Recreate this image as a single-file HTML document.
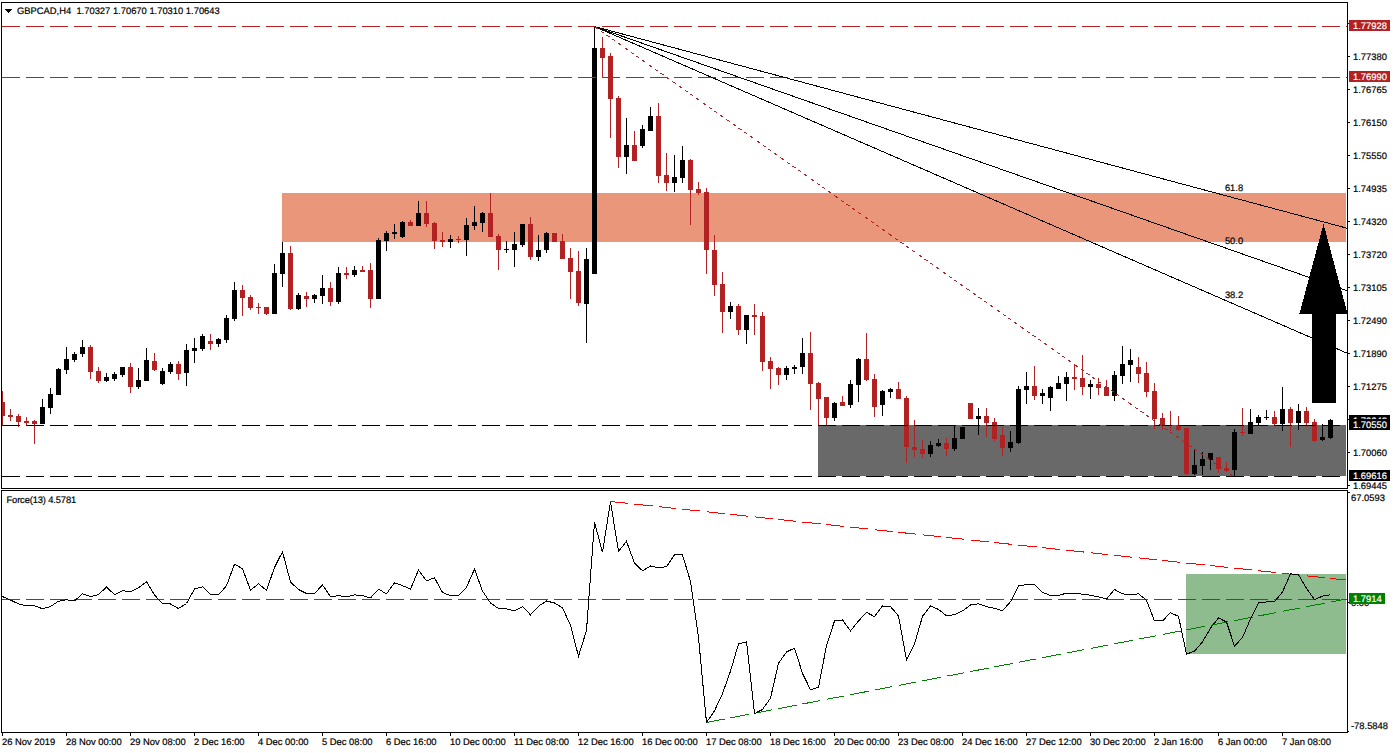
<!DOCTYPE html>
<html><head><meta charset="utf-8"><title>GBPCAD,H4</title>
<style>
html,body{margin:0;padding:0;background:#fff;}
body{width:1393px;height:753px;overflow:hidden;}
svg{display:block;}
text{font-family:"Liberation Sans",sans-serif;stroke-width:0.2px;text-rendering:geometricPrecision;}
</style></head><body>
<svg width="1393" height="753" viewBox="0 0 1393 753">
<clipPath id="cm"><rect x="2" y="3" width="1345" height="485"/></clipPath>
<clipPath id="ci"><rect x="2" y="491" width="1345" height="241"/></clipPath>
<g clip-path="url(#cm)" shape-rendering="crispEdges">
<rect x="282" y="193" width="1064" height="49" fill="#E9967A"/>
<rect x="818" y="425" width="528" height="51" fill="#696969"/>
<rect x="2" y="391" width="1" height="34" fill="#B22222"/>
<rect x="0" y="402" width="5" height="14" fill="#B22222"/>
<rect x="10" y="409" width="1" height="12" fill="#B22222"/>
<rect x="8" y="415" width="5" height="2" fill="#B22222"/>
<rect x="18" y="414" width="1" height="13" fill="#B22222"/>
<rect x="16" y="416" width="5" height="6" fill="#B22222"/>
<rect x="26" y="417" width="1" height="8" fill="#B22222"/>
<rect x="24" y="421" width="5" height="2" fill="#B22222"/>
<rect x="34" y="420" width="1" height="24" fill="#B22222"/>
<rect x="32" y="421" width="5" height="3" fill="#B22222"/>
<rect x="42" y="399" width="1" height="25" fill="#000"/>
<rect x="40" y="407" width="5" height="17" fill="#000"/>
<rect x="50" y="388" width="1" height="26" fill="#000"/>
<rect x="48" y="394" width="5" height="14" fill="#000"/>
<rect x="58" y="368" width="1" height="27" fill="#000"/>
<rect x="56" y="369" width="5" height="26" fill="#000"/>
<rect x="66" y="347" width="1" height="27" fill="#000"/>
<rect x="64" y="359" width="5" height="11" fill="#000"/>
<rect x="74" y="352" width="1" height="10" fill="#000"/>
<rect x="72" y="354" width="5" height="6" fill="#000"/>
<rect x="82" y="340" width="1" height="17" fill="#000"/>
<rect x="80" y="347" width="5" height="7" fill="#000"/>
<rect x="90" y="345" width="1" height="34" fill="#B22222"/>
<rect x="88" y="347" width="5" height="25" fill="#B22222"/>
<rect x="98" y="367" width="1" height="16" fill="#B22222"/>
<rect x="96" y="371" width="5" height="10" fill="#B22222"/>
<rect x="106" y="373" width="1" height="9" fill="#000"/>
<rect x="104" y="377" width="5" height="4" fill="#000"/>
<rect x="114" y="372" width="1" height="9" fill="#000"/>
<rect x="112" y="374" width="5" height="5" fill="#000"/>
<rect x="122" y="367" width="1" height="10" fill="#000"/>
<rect x="120" y="367" width="5" height="8" fill="#000"/>
<rect x="130" y="363" width="1" height="30" fill="#B22222"/>
<rect x="128" y="367" width="5" height="20" fill="#B22222"/>
<rect x="138" y="368" width="1" height="21" fill="#000"/>
<rect x="136" y="380" width="5" height="7" fill="#000"/>
<rect x="146" y="348" width="1" height="33" fill="#000"/>
<rect x="144" y="360" width="5" height="21" fill="#000"/>
<rect x="154" y="353" width="1" height="18" fill="#B22222"/>
<rect x="152" y="361" width="5" height="9" fill="#B22222"/>
<rect x="162" y="368" width="1" height="17" fill="#000"/>
<rect x="160" y="371" width="5" height="13" fill="#000"/>
<rect x="170" y="362" width="1" height="12" fill="#000"/>
<rect x="168" y="364" width="5" height="8" fill="#000"/>
<rect x="178" y="361" width="1" height="19" fill="#B22222"/>
<rect x="176" y="364" width="5" height="10" fill="#B22222"/>
<rect x="186" y="344" width="1" height="42" fill="#000"/>
<rect x="184" y="350" width="5" height="23" fill="#000"/>
<rect x="194" y="338" width="1" height="25" fill="#000"/>
<rect x="192" y="348" width="5" height="3" fill="#000"/>
<rect x="202" y="334" width="1" height="17" fill="#000"/>
<rect x="200" y="336" width="5" height="13" fill="#000"/>
<rect x="210" y="334" width="1" height="16" fill="#B22222"/>
<rect x="208" y="341" width="5" height="3" fill="#B22222"/>
<rect x="218" y="338" width="1" height="9" fill="#000"/>
<rect x="216" y="339" width="5" height="5" fill="#000"/>
<rect x="226" y="315" width="1" height="28" fill="#000"/>
<rect x="224" y="318" width="5" height="22" fill="#000"/>
<rect x="234" y="282" width="1" height="39" fill="#000"/>
<rect x="232" y="290" width="5" height="29" fill="#000"/>
<rect x="242" y="285" width="1" height="31" fill="#B22222"/>
<rect x="240" y="290" width="5" height="8" fill="#B22222"/>
<rect x="250" y="295" width="1" height="15" fill="#B22222"/>
<rect x="248" y="297" width="5" height="11" fill="#B22222"/>
<rect x="258" y="303" width="1" height="11" fill="#B22222"/>
<rect x="256" y="307" width="5" height="1" fill="#B22222"/>
<rect x="266" y="307" width="1" height="8" fill="#B22222"/>
<rect x="264" y="307" width="5" height="7" fill="#B22222"/>
<rect x="274" y="264" width="1" height="50" fill="#000"/>
<rect x="272" y="273" width="5" height="41" fill="#000"/>
<rect x="282" y="242" width="1" height="45" fill="#000"/>
<rect x="280" y="253" width="5" height="21" fill="#000"/>
<rect x="290" y="246" width="1" height="64" fill="#B22222"/>
<rect x="288" y="253" width="5" height="56" fill="#B22222"/>
<rect x="298" y="293" width="1" height="17" fill="#000"/>
<rect x="296" y="295" width="5" height="14" fill="#000"/>
<rect x="306" y="292" width="1" height="15" fill="#B22222"/>
<rect x="304" y="296" width="5" height="3" fill="#B22222"/>
<rect x="314" y="294" width="1" height="9" fill="#000"/>
<rect x="312" y="295" width="5" height="4" fill="#000"/>
<rect x="322" y="275" width="1" height="29" fill="#000"/>
<rect x="320" y="288" width="5" height="8" fill="#000"/>
<rect x="330" y="282" width="1" height="24" fill="#B22222"/>
<rect x="328" y="288" width="5" height="14" fill="#B22222"/>
<rect x="338" y="267" width="1" height="37" fill="#000"/>
<rect x="336" y="273" width="5" height="29" fill="#000"/>
<rect x="346" y="267" width="1" height="12" fill="#B22222"/>
<rect x="344" y="273" width="5" height="2" fill="#B22222"/>
<rect x="354" y="266" width="1" height="11" fill="#000"/>
<rect x="352" y="270" width="5" height="5" fill="#000"/>
<rect x="362" y="266" width="1" height="6" fill="#B22222"/>
<rect x="360" y="270" width="5" height="2" fill="#B22222"/>
<rect x="370" y="263" width="1" height="45" fill="#B22222"/>
<rect x="368" y="270" width="5" height="29" fill="#B22222"/>
<rect x="378" y="238" width="1" height="61" fill="#000"/>
<rect x="376" y="240" width="5" height="59" fill="#000"/>
<rect x="386" y="231" width="1" height="20" fill="#000"/>
<rect x="384" y="233" width="5" height="8" fill="#000"/>
<rect x="394" y="224" width="1" height="15" fill="#000"/>
<rect x="392" y="232" width="5" height="2" fill="#000"/>
<rect x="402" y="221" width="1" height="17" fill="#000"/>
<rect x="400" y="222" width="5" height="15" fill="#000"/>
<rect x="410" y="220" width="1" height="6" fill="#B22222"/>
<rect x="408" y="222" width="5" height="4" fill="#B22222"/>
<rect x="418" y="201" width="1" height="25" fill="#000"/>
<rect x="416" y="213" width="5" height="13" fill="#000"/>
<rect x="426" y="201" width="1" height="26" fill="#B22222"/>
<rect x="424" y="213" width="5" height="11" fill="#B22222"/>
<rect x="434" y="222" width="1" height="27" fill="#B22222"/>
<rect x="432" y="223" width="5" height="18" fill="#B22222"/>
<rect x="442" y="232" width="1" height="15" fill="#B22222"/>
<rect x="440" y="240" width="5" height="2" fill="#B22222"/>
<rect x="450" y="235" width="1" height="13" fill="#000"/>
<rect x="448" y="239" width="5" height="3" fill="#000"/>
<rect x="458" y="236" width="1" height="7" fill="#B22222"/>
<rect x="456" y="239" width="5" height="1" fill="#B22222"/>
<rect x="466" y="218" width="1" height="38" fill="#000"/>
<rect x="464" y="225" width="5" height="15" fill="#000"/>
<rect x="474" y="206" width="1" height="24" fill="#000"/>
<rect x="472" y="222" width="5" height="4" fill="#000"/>
<rect x="482" y="212" width="1" height="20" fill="#000"/>
<rect x="480" y="213" width="5" height="10" fill="#000"/>
<rect x="490" y="193" width="1" height="44" fill="#B22222"/>
<rect x="488" y="213" width="5" height="24" fill="#B22222"/>
<rect x="498" y="234" width="1" height="36" fill="#B22222"/>
<rect x="496" y="236" width="5" height="14" fill="#B22222"/>
<rect x="506" y="241" width="1" height="12" fill="#000"/>
<rect x="504" y="249" width="5" height="1" fill="#000"/>
<rect x="514" y="232" width="1" height="35" fill="#000"/>
<rect x="512" y="244" width="5" height="6" fill="#000"/>
<rect x="522" y="224" width="1" height="23" fill="#000"/>
<rect x="520" y="224" width="5" height="21" fill="#000"/>
<rect x="530" y="217" width="1" height="43" fill="#B22222"/>
<rect x="528" y="224" width="5" height="33" fill="#B22222"/>
<rect x="538" y="235" width="1" height="26" fill="#000"/>
<rect x="536" y="250" width="5" height="7" fill="#000"/>
<rect x="546" y="232" width="1" height="21" fill="#000"/>
<rect x="544" y="233" width="5" height="17" fill="#000"/>
<rect x="554" y="233" width="1" height="9" fill="#B22222"/>
<rect x="552" y="233" width="5" height="9" fill="#B22222"/>
<rect x="562" y="234" width="1" height="25" fill="#B22222"/>
<rect x="560" y="241" width="5" height="18" fill="#B22222"/>
<rect x="570" y="248" width="1" height="51" fill="#B22222"/>
<rect x="568" y="258" width="5" height="14" fill="#B22222"/>
<rect x="578" y="251" width="1" height="55" fill="#B22222"/>
<rect x="576" y="271" width="5" height="32" fill="#B22222"/>
<rect x="586" y="248" width="1" height="95" fill="#000"/>
<rect x="584" y="259" width="5" height="45" fill="#000"/>
<rect x="594" y="26" width="1" height="248" fill="#000"/>
<rect x="592" y="48" width="5" height="226" fill="#000"/>
<rect x="602" y="37" width="1" height="40" fill="#B22222"/>
<rect x="600" y="48" width="5" height="10" fill="#B22222"/>
<rect x="610" y="53" width="1" height="85" fill="#B22222"/>
<rect x="608" y="56" width="5" height="43" fill="#B22222"/>
<rect x="618" y="96" width="1" height="72" fill="#B22222"/>
<rect x="616" y="98" width="5" height="59" fill="#B22222"/>
<rect x="626" y="118" width="1" height="56" fill="#000"/>
<rect x="624" y="145" width="5" height="12" fill="#000"/>
<rect x="634" y="131" width="1" height="29" fill="#B22222"/>
<rect x="632" y="145" width="5" height="16" fill="#B22222"/>
<rect x="642" y="125" width="1" height="23" fill="#000"/>
<rect x="640" y="129" width="5" height="17" fill="#000"/>
<rect x="650" y="107" width="1" height="23" fill="#000"/>
<rect x="648" y="116" width="5" height="15" fill="#000"/>
<rect x="658" y="103" width="1" height="80" fill="#B22222"/>
<rect x="656" y="116" width="5" height="60" fill="#B22222"/>
<rect x="666" y="153" width="1" height="38" fill="#B22222"/>
<rect x="664" y="175" width="5" height="8" fill="#B22222"/>
<rect x="674" y="155" width="1" height="37" fill="#000"/>
<rect x="672" y="177" width="5" height="6" fill="#000"/>
<rect x="682" y="146" width="1" height="37" fill="#000"/>
<rect x="680" y="160" width="5" height="18" fill="#000"/>
<rect x="690" y="159" width="1" height="66" fill="#B22222"/>
<rect x="688" y="160" width="5" height="30" fill="#B22222"/>
<rect x="698" y="182" width="1" height="13" fill="#B22222"/>
<rect x="696" y="189" width="5" height="4" fill="#B22222"/>
<rect x="706" y="188" width="1" height="86" fill="#B22222"/>
<rect x="704" y="192" width="5" height="58" fill="#B22222"/>
<rect x="714" y="235" width="1" height="61" fill="#B22222"/>
<rect x="712" y="250" width="5" height="35" fill="#B22222"/>
<rect x="722" y="272" width="1" height="61" fill="#B22222"/>
<rect x="720" y="284" width="5" height="28" fill="#B22222"/>
<rect x="730" y="302" width="1" height="17" fill="#000"/>
<rect x="728" y="306" width="5" height="6" fill="#000"/>
<rect x="738" y="304" width="1" height="31" fill="#B22222"/>
<rect x="736" y="306" width="5" height="24" fill="#B22222"/>
<rect x="746" y="315" width="1" height="29" fill="#000"/>
<rect x="744" y="315" width="5" height="15" fill="#000"/>
<rect x="754" y="304" width="1" height="31" fill="#B22222"/>
<rect x="752" y="315" width="5" height="2" fill="#B22222"/>
<rect x="762" y="312" width="1" height="59" fill="#B22222"/>
<rect x="760" y="316" width="5" height="46" fill="#B22222"/>
<rect x="770" y="357" width="1" height="32" fill="#B22222"/>
<rect x="768" y="361" width="5" height="8" fill="#B22222"/>
<rect x="778" y="367" width="1" height="18" fill="#B22222"/>
<rect x="776" y="368" width="5" height="7" fill="#B22222"/>
<rect x="786" y="366" width="1" height="14" fill="#000"/>
<rect x="784" y="368" width="5" height="7" fill="#000"/>
<rect x="794" y="365" width="1" height="9" fill="#000"/>
<rect x="792" y="367" width="5" height="2" fill="#000"/>
<rect x="802" y="338" width="1" height="36" fill="#000"/>
<rect x="800" y="353" width="5" height="14" fill="#000"/>
<rect x="810" y="332" width="1" height="78" fill="#B22222"/>
<rect x="808" y="353" width="5" height="31" fill="#B22222"/>
<rect x="818" y="382" width="1" height="43" fill="#B22222"/>
<rect x="816" y="383" width="5" height="16" fill="#B22222"/>
<rect x="826" y="397" width="1" height="28" fill="#B22222"/>
<rect x="824" y="397" width="5" height="21" fill="#B22222"/>
<rect x="834" y="402" width="1" height="19" fill="#000"/>
<rect x="832" y="403" width="5" height="15" fill="#000"/>
<rect x="842" y="396" width="1" height="10" fill="#B22222"/>
<rect x="840" y="402" width="5" height="4" fill="#B22222"/>
<rect x="850" y="380" width="1" height="28" fill="#000"/>
<rect x="848" y="384" width="5" height="21" fill="#000"/>
<rect x="858" y="358" width="1" height="44" fill="#000"/>
<rect x="856" y="359" width="5" height="26" fill="#000"/>
<rect x="866" y="333" width="1" height="48" fill="#B22222"/>
<rect x="864" y="359" width="5" height="21" fill="#B22222"/>
<rect x="874" y="374" width="1" height="43" fill="#B22222"/>
<rect x="872" y="379" width="5" height="28" fill="#B22222"/>
<rect x="882" y="390" width="1" height="26" fill="#000"/>
<rect x="880" y="391" width="5" height="14" fill="#000"/>
<rect x="890" y="388" width="1" height="10" fill="#000"/>
<rect x="888" y="389" width="5" height="3" fill="#000"/>
<rect x="898" y="382" width="1" height="17" fill="#B22222"/>
<rect x="896" y="389" width="5" height="10" fill="#B22222"/>
<rect x="906" y="396" width="1" height="67" fill="#B22222"/>
<rect x="904" y="398" width="5" height="49" fill="#B22222"/>
<rect x="914" y="420" width="1" height="37" fill="#B22222"/>
<rect x="912" y="447" width="5" height="3" fill="#B22222"/>
<rect x="922" y="440" width="1" height="18" fill="#B22222"/>
<rect x="920" y="449" width="5" height="5" fill="#B22222"/>
<rect x="930" y="441" width="1" height="16" fill="#000"/>
<rect x="928" y="445" width="5" height="9" fill="#000"/>
<rect x="938" y="439" width="1" height="8" fill="#000"/>
<rect x="936" y="443" width="5" height="3" fill="#000"/>
<rect x="946" y="438" width="1" height="18" fill="#B22222"/>
<rect x="944" y="443" width="5" height="6" fill="#B22222"/>
<rect x="954" y="425" width="1" height="26" fill="#000"/>
<rect x="952" y="438" width="5" height="11" fill="#000"/>
<rect x="962" y="427" width="1" height="12" fill="#000"/>
<rect x="960" y="427" width="5" height="12" fill="#000"/>
<rect x="970" y="403" width="1" height="16" fill="#B22222"/>
<rect x="968" y="403" width="5" height="16" fill="#B22222"/>
<rect x="978" y="408" width="1" height="27" fill="#000"/>
<rect x="976" y="416" width="5" height="3" fill="#000"/>
<rect x="986" y="408" width="1" height="29" fill="#B22222"/>
<rect x="984" y="416" width="5" height="7" fill="#B22222"/>
<rect x="994" y="418" width="1" height="23" fill="#B22222"/>
<rect x="992" y="422" width="5" height="17" fill="#B22222"/>
<rect x="1002" y="427" width="1" height="29" fill="#B22222"/>
<rect x="1000" y="435" width="5" height="13" fill="#B22222"/>
<rect x="1010" y="431" width="1" height="21" fill="#000"/>
<rect x="1008" y="442" width="5" height="6" fill="#000"/>
<rect x="1018" y="386" width="1" height="58" fill="#000"/>
<rect x="1016" y="389" width="5" height="54" fill="#000"/>
<rect x="1026" y="372" width="1" height="32" fill="#000"/>
<rect x="1024" y="386" width="5" height="4" fill="#000"/>
<rect x="1034" y="366" width="1" height="34" fill="#B22222"/>
<rect x="1032" y="386" width="5" height="10" fill="#B22222"/>
<rect x="1042" y="389" width="1" height="15" fill="#000"/>
<rect x="1040" y="393" width="5" height="3" fill="#000"/>
<rect x="1050" y="386" width="1" height="25" fill="#000"/>
<rect x="1048" y="387" width="5" height="11" fill="#000"/>
<rect x="1058" y="376" width="1" height="12" fill="#000"/>
<rect x="1056" y="383" width="5" height="6" fill="#000"/>
<rect x="1066" y="372" width="1" height="29" fill="#000"/>
<rect x="1064" y="377" width="5" height="7" fill="#000"/>
<rect x="1074" y="365" width="1" height="25" fill="#B22222"/>
<rect x="1072" y="377" width="5" height="2" fill="#B22222"/>
<rect x="1082" y="355" width="1" height="40" fill="#B22222"/>
<rect x="1080" y="378" width="5" height="9" fill="#B22222"/>
<rect x="1090" y="380" width="1" height="19" fill="#000"/>
<rect x="1088" y="384" width="5" height="3" fill="#000"/>
<rect x="1098" y="378" width="1" height="17" fill="#B22222"/>
<rect x="1096" y="384" width="5" height="4" fill="#B22222"/>
<rect x="1106" y="380" width="1" height="16" fill="#B22222"/>
<rect x="1104" y="387" width="5" height="9" fill="#B22222"/>
<rect x="1114" y="371" width="1" height="30" fill="#000"/>
<rect x="1112" y="375" width="5" height="21" fill="#000"/>
<rect x="1122" y="346" width="1" height="38" fill="#000"/>
<rect x="1120" y="364" width="5" height="12" fill="#000"/>
<rect x="1130" y="349" width="1" height="33" fill="#000"/>
<rect x="1128" y="360" width="5" height="5" fill="#000"/>
<rect x="1138" y="357" width="1" height="26" fill="#B22222"/>
<rect x="1136" y="367" width="5" height="7" fill="#B22222"/>
<rect x="1146" y="362" width="1" height="35" fill="#B22222"/>
<rect x="1144" y="373" width="5" height="19" fill="#B22222"/>
<rect x="1154" y="383" width="1" height="46" fill="#B22222"/>
<rect x="1152" y="391" width="5" height="28" fill="#B22222"/>
<rect x="1162" y="413" width="1" height="17" fill="#B22222"/>
<rect x="1160" y="418" width="5" height="7" fill="#B22222"/>
<rect x="1170" y="411" width="1" height="20" fill="#B22222"/>
<rect x="1168" y="425" width="5" height="1" fill="#B22222"/>
<rect x="1178" y="416" width="1" height="15" fill="#B22222"/>
<rect x="1176" y="425" width="5" height="5" fill="#B22222"/>
<rect x="1186" y="428" width="1" height="47" fill="#B22222"/>
<rect x="1184" y="428" width="5" height="46" fill="#B22222"/>
<rect x="1194" y="449" width="1" height="26" fill="#000"/>
<rect x="1192" y="465" width="5" height="9" fill="#000"/>
<rect x="1202" y="452" width="1" height="23" fill="#000"/>
<rect x="1200" y="459" width="5" height="7" fill="#000"/>
<rect x="1210" y="453" width="1" height="17" fill="#000"/>
<rect x="1208" y="453" width="5" height="7" fill="#000"/>
<rect x="1218" y="457" width="1" height="16" fill="#B22222"/>
<rect x="1216" y="457" width="5" height="12" fill="#B22222"/>
<rect x="1226" y="462" width="1" height="9" fill="#B22222"/>
<rect x="1224" y="468" width="5" height="3" fill="#B22222"/>
<rect x="1234" y="429" width="1" height="47" fill="#000"/>
<rect x="1232" y="432" width="5" height="38" fill="#000"/>
<rect x="1242" y="408" width="1" height="28" fill="#B22222"/>
<rect x="1240" y="432" width="5" height="1" fill="#B22222"/>
<rect x="1250" y="409" width="1" height="25" fill="#000"/>
<rect x="1248" y="422" width="5" height="12" fill="#000"/>
<rect x="1258" y="415" width="1" height="10" fill="#000"/>
<rect x="1256" y="417" width="5" height="6" fill="#000"/>
<rect x="1266" y="410" width="1" height="10" fill="#000"/>
<rect x="1264" y="417" width="5" height="1" fill="#000"/>
<rect x="1274" y="411" width="1" height="14" fill="#B22222"/>
<rect x="1272" y="417" width="5" height="7" fill="#B22222"/>
<rect x="1282" y="387" width="1" height="44" fill="#000"/>
<rect x="1280" y="409" width="5" height="15" fill="#000"/>
<rect x="1290" y="407" width="1" height="40" fill="#B22222"/>
<rect x="1288" y="409" width="5" height="14" fill="#B22222"/>
<rect x="1298" y="404" width="1" height="26" fill="#000"/>
<rect x="1296" y="411" width="5" height="12" fill="#000"/>
<rect x="1306" y="407" width="1" height="20" fill="#B22222"/>
<rect x="1304" y="411" width="5" height="12" fill="#B22222"/>
<rect x="1314" y="419" width="1" height="23" fill="#B22222"/>
<rect x="1312" y="422" width="5" height="19" fill="#B22222"/>
<rect x="1322" y="424" width="1" height="17" fill="#000"/>
<rect x="1320" y="437" width="5" height="3" fill="#000"/>
<rect x="1330" y="419" width="1" height="20" fill="#000"/>
<rect x="1328" y="420" width="5" height="18" fill="#000"/>
<line x1="2" y1="26.5" x2="1346" y2="26.5" stroke="#B22222" stroke-width="1" stroke-dasharray="18 6"/>
<line x1="2" y1="77.5" x2="1346" y2="77.5" stroke="#B22222" stroke-width="1" stroke-dasharray="18 6"/>
<line x1="2" y1="425.5" x2="1346" y2="425.5" stroke="#000" stroke-width="1" stroke-dasharray="18 6"/>
<line x1="2" y1="476.5" x2="1346" y2="476.5" stroke="#000" stroke-width="1" stroke-dasharray="18 6"/>
<line x1="594.5" y1="26.5" x2="1347" y2="228.19" stroke="#000" stroke-width="1"/>
<line x1="594.5" y1="26.5" x2="1347" y2="290.67" stroke="#000" stroke-width="1"/>
<line x1="594.5" y1="26.5" x2="1347" y2="353.15" stroke="#000" stroke-width="1"/>
<line x1="594.5" y1="26.5" x2="1233.5" y2="476.5" stroke="#B22222" stroke-width="1" stroke-dasharray="3.669 3.669"/>
</g>
<g font-size="9.4">
<text x="1234" y="191" fill="#000" text-anchor="middle" stroke="#000">61.8</text>
<text x="1234" y="244" fill="#000" text-anchor="middle" stroke="#000">50.0</text>
<text x="1234" y="298" fill="#000" text-anchor="middle" stroke="#000">38.2</text>
</g>
<g clip-path="url(#cm)" shape-rendering="crispEdges">
<polygon points="1323.5,224 1347.5,313.5 1336,313.5 1336,403 1312,403 1312,313.5 1299.5,313.5" fill="#000"/>
</g>
<path d="M5,9h7v1h-1v1h-1v1h-1v1h-1v-1h-1v-1h-1v-1h-1z" fill="#000" shape-rendering="crispEdges"/>
<text x="17" y="14" fill="#000" text-anchor="start" font-size="9.4" stroke="#000">GBPCAD,H4&#160;&#160;1.70327 1.70670 1.70310 1.70643</text>
<g clip-path="url(#ci)" shape-rendering="crispEdges">
<rect x="1186" y="574" width="160" height="80" fill="#8FBC8F"/>
<line x1="2" y1="599.5" x2="1346" y2="599.5" stroke="#008000" stroke-width="1" stroke-dasharray="18 6"/>
<line x1="610.5" y1="501.5" x2="1346.5" y2="580.1" stroke="#FF0000" stroke-width="1" stroke-dasharray="18.102 6.034"/>
<line x1="706.5" y1="722.5" x2="1346.5" y2="599.0" stroke="#008000" stroke-width="1" stroke-dasharray="18.332 6.111"/>
<polyline points="2.5,596.5 10.5,600.1 18.5,603.9 26.5,605.8 34.5,605.8 42.5,608.7 50.5,606.5 58.5,601.2 66.5,599.8 74.5,601.0 82.5,593.7 90.5,596.7 98.5,594.7 106.5,586.9 114.5,594.7 122.5,590.7 130.5,591.8 138.5,587.7 146.5,581.8 154.5,594.9 162.5,603.8 170.5,604.0 178.5,608.5 186.5,603.5 194.5,589.0 202.5,586.8 210.5,594.7 218.5,594.9 226.5,585.7 234.5,564.2 242.5,568.7 250.5,590.2 258.5,583.8 266.5,590.4 274.5,567.4 282.5,551.8 290.5,582.0 298.5,589.5 306.5,593.5 314.5,593.5 322.5,584.9 330.5,596.7 338.5,595.7 346.5,596.8 354.5,594.9 362.5,595.7 370.5,597.9 378.5,589.2 386.5,593.8 394.5,582.7 402.5,585.7 410.5,589.0 418.5,570.1 426.5,580.9 434.5,577.8 442.5,592.4 450.5,595.7 458.5,595.7 466.5,587.3 474.5,569.0 482.5,591.1 490.5,603.0 498.5,608.5 506.5,608.9 514.5,610.7 522.5,606.7 530.5,614.8 538.5,606.2 546.5,601.0 554.5,603.0 562.5,607.7 570.5,625.3 578.5,656.3 586.5,630.5 594.5,522.1 602.5,552.4 610.5,501.8 618.5,551.5 626.5,541.3 634.5,563.2 642.5,570.7 650.5,566.0 658.5,567.8 666.5,566.6 674.5,554.9 682.5,554.9 690.5,581.5 698.5,637.3 706.5,722.6 714.5,710.7 722.5,693.7 730.5,671.1 738.5,644.0 746.5,641.8 754.5,713.6 762.5,709.5 770.5,698.2 778.5,663.2 786.5,652.0 794.5,648.1 802.5,673.4 810.5,689.7 818.5,687.4 826.5,645.5 834.5,621.0 842.5,619.9 850.5,630.9 858.5,621.0 866.5,612.3 874.5,616.7 882.5,606.0 890.5,606.6 898.5,615.9 906.5,659.8 914.5,644.2 922.5,616.3 930.5,606.0 938.5,609.4 946.5,615.9 954.5,614.7 962.5,610.9 970.5,605.0 978.5,603.7 986.5,606.6 994.5,608.4 1002.5,610.7 1010.5,601.7 1018.5,585.8 1026.5,584.7 1034.5,584.7 1042.5,592.4 1050.5,595.5 1058.5,595.5 1066.5,593.1 1074.5,593.7 1082.5,594.1 1090.5,595.3 1098.5,596.8 1106.5,599.0 1114.5,589.5 1122.5,593.7 1130.5,595.0 1138.5,593.7 1146.5,600.3 1154.5,620.9 1162.5,620.9 1170.5,612.7 1178.5,616.3 1186.5,654.1 1194.5,651.2 1202.5,641.8 1210.5,628.2 1218.5,617.9 1226.5,622.0 1234.5,646.1 1242.5,637.5 1250.5,618.9 1258.5,603.0 1266.5,601.9 1274.5,601.7 1282.5,592.0 1290.5,573.8 1298.5,574.8 1306.5,588.4 1314.5,599.7 1322.5,596.1 1330.5,594.8" fill="none" stroke="#000" stroke-width="1"/>
</g>
<text x="6.5" y="503" fill="#000" text-anchor="start" font-size="9.4" letter-spacing="-0.15" stroke="#000">Force(13) 4.5781</text>
<g shape-rendering="crispEdges" fill="none" stroke="#000" stroke-width="1">
<path d="M1.5,488.5 V2.5 H1347.5 V488.5 H1.5"/>
<path d="M1.5,732.5 V490.5 H1347.5 V732.5 H1.5"/>
</g>
<g font-size="9.4" shape-rendering="crispEdges">
<rect x="1348" y="56" width="2" height="1" fill="#000"/>
<text x="1353" y="60" fill="#000" text-anchor="start" stroke="#000">1.77380</text>
<rect x="1348" y="89" width="2" height="1" fill="#000"/>
<text x="1353" y="93" fill="#000" text-anchor="start" stroke="#000">1.76765</text>
<rect x="1348" y="122" width="2" height="1" fill="#000"/>
<text x="1353" y="126" fill="#000" text-anchor="start" stroke="#000">1.76150</text>
<rect x="1348" y="155" width="2" height="1" fill="#000"/>
<text x="1353" y="159" fill="#000" text-anchor="start" stroke="#000">1.75550</text>
<rect x="1348" y="188" width="2" height="1" fill="#000"/>
<text x="1353" y="192" fill="#000" text-anchor="start" stroke="#000">1.74935</text>
<rect x="1348" y="221" width="2" height="1" fill="#000"/>
<text x="1353" y="225" fill="#000" text-anchor="start" stroke="#000">1.74320</text>
<rect x="1348" y="254" width="2" height="1" fill="#000"/>
<text x="1353" y="258" fill="#000" text-anchor="start" stroke="#000">1.73720</text>
<rect x="1348" y="287" width="2" height="1" fill="#000"/>
<text x="1353" y="291" fill="#000" text-anchor="start" stroke="#000">1.73105</text>
<rect x="1348" y="320" width="2" height="1" fill="#000"/>
<text x="1353" y="324" fill="#000" text-anchor="start" stroke="#000">1.72490</text>
<rect x="1348" y="353" width="2" height="1" fill="#000"/>
<text x="1353" y="357" fill="#000" text-anchor="start" stroke="#000">1.71890</text>
<rect x="1348" y="386" width="2" height="1" fill="#000"/>
<text x="1353" y="390" fill="#000" text-anchor="start" stroke="#000">1.71275</text>
<rect x="1348" y="452" width="2" height="1" fill="#000"/>
<text x="1353" y="456" fill="#000" text-anchor="start" stroke="#000">1.70060</text>
<rect x="1348" y="485" width="2" height="1" fill="#000"/>
<text x="1353" y="489" fill="#000" text-anchor="start" stroke="#000">1.69445</text>
<rect x="1348" y="23" width="2" height="1" fill="#000"/>
<rect x="1346" y="26" width="1" height="1" fill="#B22222"/>
<rect x="1346" y="77" width="1" height="1" fill="#B22222"/>
<rect x="1349" y="20" width="41" height="11" fill="#B22222"/>
<text x="1353" y="29" fill="#fff" text-anchor="start" stroke="#fff">1.77928</text>
<rect x="1349" y="71" width="41" height="11" fill="#B22222"/>
<text x="1353" y="80" fill="#fff" text-anchor="start" stroke="#fff">1.76990</text>
<rect x="1348" y="419" width="1" height="1" fill="#000"/>
<rect x="1349" y="415" width="41" height="11" fill="#000"/>
<text x="1353" y="424" fill="#fff" text-anchor="start" stroke="#fff">1.70643</text>
<rect x="1349" y="419" width="41" height="11" fill="#000"/>
<text x="1353" y="428" fill="#fff" text-anchor="start" stroke="#fff">1.70550</text>
<rect x="1349" y="470" width="41" height="11" fill="#000"/>
<text x="1353" y="479" fill="#fff" text-anchor="start" stroke="#fff">1.69616</text>
<rect x="1348" y="492" width="2" height="1" fill="#000"/>
<text x="1351" y="501" fill="#000" text-anchor="start" stroke="#000">67.0593</text>
<rect x="1348" y="602" width="2" height="1" fill="#000"/>
<text x="1351" y="606" fill="#000" text-anchor="start" stroke="#000">0.00</text>
<rect x="1349" y="593" width="36" height="11" fill="#008000"/>
<text x="1353" y="602" fill="#fff" text-anchor="start" stroke="#fff">1.7914</text>
<rect x="1348" y="731" width="1" height="1" fill="#000"/>
<text x="1351" y="729" fill="#000" text-anchor="start" stroke="#000">-78.5848</text>
</g>
<g font-size="9.4" shape-rendering="crispEdges">
<rect x="2" y="733" width="1" height="3" fill="#000"/>
<text x="2" y="745" fill="#000" text-anchor="start" stroke="#000">26 Nov 2019</text>
<rect x="66" y="733" width="1" height="3" fill="#000"/>
<text x="66" y="745" fill="#000" text-anchor="start" stroke="#000">28 Nov 00:00</text>
<rect x="130" y="733" width="1" height="3" fill="#000"/>
<text x="130" y="745" fill="#000" text-anchor="start" stroke="#000">29 Nov 08:00</text>
<rect x="194" y="733" width="1" height="3" fill="#000"/>
<text x="194" y="745" fill="#000" text-anchor="start" stroke="#000">2 Dec 16:00</text>
<rect x="258" y="733" width="1" height="3" fill="#000"/>
<text x="258" y="745" fill="#000" text-anchor="start" stroke="#000">4 Dec 00:00</text>
<rect x="322" y="733" width="1" height="3" fill="#000"/>
<text x="322" y="745" fill="#000" text-anchor="start" stroke="#000">5 Dec 08:00</text>
<rect x="386" y="733" width="1" height="3" fill="#000"/>
<text x="386" y="745" fill="#000" text-anchor="start" stroke="#000">6 Dec 16:00</text>
<rect x="450" y="733" width="1" height="3" fill="#000"/>
<text x="450" y="745" fill="#000" text-anchor="start" stroke="#000">10 Dec 00:00</text>
<rect x="514" y="733" width="1" height="3" fill="#000"/>
<text x="514" y="745" fill="#000" text-anchor="start" stroke="#000">11 Dec 08:00</text>
<rect x="578" y="733" width="1" height="3" fill="#000"/>
<text x="578" y="745" fill="#000" text-anchor="start" stroke="#000">12 Dec 16:00</text>
<rect x="642" y="733" width="1" height="3" fill="#000"/>
<text x="642" y="745" fill="#000" text-anchor="start" stroke="#000">16 Dec 00:00</text>
<rect x="706" y="733" width="1" height="3" fill="#000"/>
<text x="706" y="745" fill="#000" text-anchor="start" stroke="#000">17 Dec 08:00</text>
<rect x="770" y="733" width="1" height="3" fill="#000"/>
<text x="770" y="745" fill="#000" text-anchor="start" stroke="#000">18 Dec 16:00</text>
<rect x="834" y="733" width="1" height="3" fill="#000"/>
<text x="834" y="745" fill="#000" text-anchor="start" stroke="#000">20 Dec 00:00</text>
<rect x="898" y="733" width="1" height="3" fill="#000"/>
<text x="898" y="745" fill="#000" text-anchor="start" stroke="#000">23 Dec 08:00</text>
<rect x="962" y="733" width="1" height="3" fill="#000"/>
<text x="962" y="745" fill="#000" text-anchor="start" stroke="#000">24 Dec 16:00</text>
<rect x="1026" y="733" width="1" height="3" fill="#000"/>
<text x="1026" y="745" fill="#000" text-anchor="start" stroke="#000">27 Dec 12:00</text>
<rect x="1090" y="733" width="1" height="3" fill="#000"/>
<text x="1090" y="745" fill="#000" text-anchor="start" stroke="#000">30 Dec 20:00</text>
<rect x="1154" y="733" width="1" height="3" fill="#000"/>
<text x="1154" y="745" fill="#000" text-anchor="start" stroke="#000">2 Jan 16:00</text>
<rect x="1218" y="733" width="1" height="3" fill="#000"/>
<text x="1218" y="745" fill="#000" text-anchor="start" stroke="#000">6 Jan 00:00</text>
<rect x="1282" y="733" width="1" height="3" fill="#000"/>
<text x="1282" y="745" fill="#000" text-anchor="start" stroke="#000">7 Jan 08:00</text>
</g>
</svg>
</body></html>
